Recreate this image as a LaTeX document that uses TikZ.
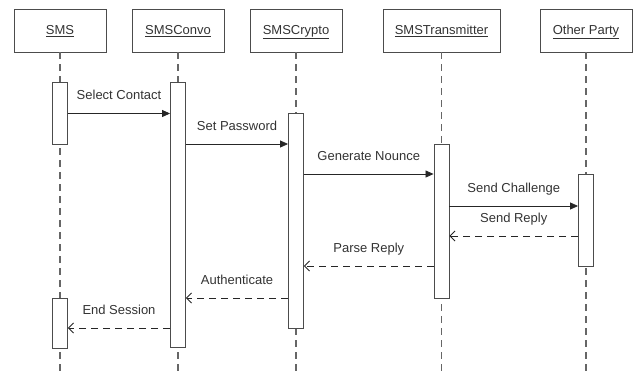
\documentclass[tikz,border=0pt]{standalone}
\usepackage{fontspec}
\setmainfont{Liberation Sans}
\usetikzlibrary{arrows.meta}
\begin{document}
\begin{tikzpicture}[x=1pt,y=-1pt,
  hdr/.style={draw=black!70,line width=0.9pt,minimum height=43pt,inner sep=0pt,text height=7.6pt,text depth=0pt,font=\fontsize{13}{15}\selectfont,text=black!80},
  life/.style={draw=black!60,line width=1.1pt,dash pattern=on 7pt off 5pt},
  actbox/.style={draw=black!70,line width=0.9pt,fill=white,minimum width=15pt,inner sep=0pt,anchor=north},
  msg/.style={draw=black!85,line width=0.8pt,-{Triangle[length=8pt,width=7pt]}},
  ret/.style={draw=black!85,line width=0.8pt,dash pattern=on 7pt off 5pt,-{Straight Barb[length=5pt,width=10pt]}},
  lbl/.style={font=\fontsize{13}{15}\selectfont,text=black!80,anchor=base,yshift=14pt}]
\useasboundingbox (0,0) rectangle (634,372);
% headers
\node[hdr,minimum width=92pt] (hSMS) at (60,30.5) {\underline{SMS}};
\node[hdr,minimum width=92pt] (hConvo) at (178,30.5) {\underline{SMSConvo}};
\node[hdr,minimum width=92pt] (hCrypto) at (296,30.5) {\underline{SMSCrypto}};
\node[hdr,minimum width=117pt] (hTrans) at (441.5,30.5) {\underline{SMSTransmitter}};
\node[hdr,minimum width=92pt] (hOther) at (586,30.5) {\underline{Other Party}};
% lifeline ends
\coordinate (eSMS) at (60,372);
\coordinate (eConvo) at (178,372);
\coordinate (eCrypto) at (296,372);
\coordinate (eTrans) at (441.5,372);
\coordinate (eOther) at (586,372);
\draw[life] (hSMS.south) -- (eSMS);
\draw[life] (hConvo.south) -- (eConvo);
\draw[life] (hCrypto.south) -- (eCrypto);
\draw[life] (hTrans.south) -- (eTrans);
\draw[life] (hOther.south) -- (eOther);
% activations
\node[actbox,minimum height=62pt] (aSMS1) at (60,82) {};
\node[actbox,minimum height=265pt] (aConvo) at (178,82) {};
\node[actbox,minimum height=215pt] (aCrypto) at (296,113) {};
\node[actbox,minimum height=154pt] (aTrans) at (441.5,144) {};
\node[actbox,minimum height=92pt] (aOther) at (586,174) {};
\node[actbox,minimum height=50pt] (aSMS2) at (60,298) {};
% messages
\draw[msg] (aSMS1.east |- 0,113.5) -- node[lbl] (l1) {Select Contact} (aConvo.west |- 0,113.5);
\draw[msg] (aConvo.east |- 0,144) -- node[lbl] (l2) {Set Password} (aCrypto.west |- 0,144);
\draw[msg] (aCrypto.east |- 0,174) -- node[lbl] (l3) {Generate Nounce} (aTrans.west |- 0,174);
\draw[msg] (aTrans.east |- 0,206) -- node[lbl] (l4) {Send Challenge} (aOther.west |- 0,206);
\draw[ret] (aOther.west |- 0,236) -- node[lbl] (l5) {Send Reply} (aTrans.east |- 0,236);
\draw[ret] (aTrans.west |- 0,266) -- node[lbl] (l6) {Parse Reply} (aCrypto.east |- 0,266);
\draw[ret] (aCrypto.west |- 0,298) -- node[lbl] (l7) {Authenticate} (aConvo.east |- 0,298);
\draw[ret] (aConvo.west |- 0,328) -- node[lbl] (l8) {End Session} (aSMS2.east |- 0,328);
\end{tikzpicture}
\end{document}
